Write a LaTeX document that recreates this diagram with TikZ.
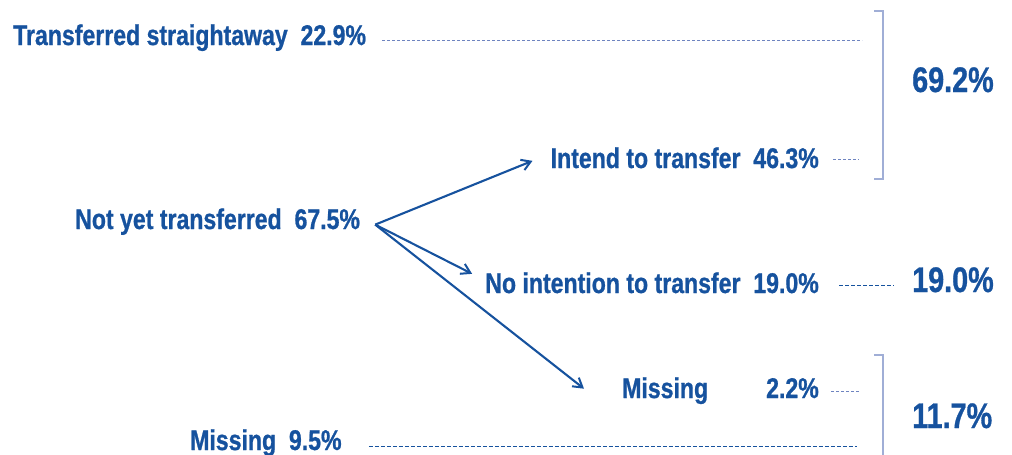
\documentclass[tikz,border=0pt]{standalone}
\usepackage{fontspec}
\setmainfont{Liberation Sans}[FakeStretch=0.81, BoldFeatures={FakeBold=0.8}]
\usetikzlibrary{arrows.meta,positioning}
\definecolor{navy}{RGB}{22,82,158}
\definecolor{rulecol}{RGB}{160,174,214}
\definecolor{leadcol}{RGB}{110,132,192}

\begin{document}
\begin{tikzpicture}[x=1pt, y=-1pt,
  lbl/.style={inner sep=0pt, text=navy, font=\fontsize{28.5}{30}\selectfont\bfseries},
  tot/.style={inner sep=0pt, text=navy, font=\fontsize{35.5}{38}\selectfont\bfseries, anchor=base west},
  flow/.style={-{Straight Barb[length=9pt,width=11pt,line width=2pt]}, line width=2.1pt, navy},
  leader/.style={leadcol, line width=1.2pt, dash pattern=on 3pt off 2pt},
  darklead/.style={navy, line width=1.3pt, dash pattern=on 4pt off 2pt},
  brace/.style={rulecol, line width=1.3pt}
]
\useasboundingbox (0,0) rectangle (1012,455);

% left column
\node[lbl, anchor=base west] at (13,45)  (trans)  {Transferred straightaway\ \ 22.9\%};
\node[lbl, anchor=base west] at (75,229) (notyet) {Not yet transferred\ \ 67.5\%};
\node[lbl, anchor=base west] at (190,450) (missall) {Missing\ \ 9.5\%};

% second level
\node[lbl, anchor=base east] at (819,168) (intend) {Intend to transfer\ \ 46.3\%};
\node[lbl, anchor=base east] at (819,293) (noint)  {No intention to transfer\ \ 19.0\%};
\node[lbl, anchor=base west] at (622,398) (miss)   {Missing};
\node[lbl, anchor=base east] at (819,398) (missval) {2.2\%};

% totals, cut at the right edge
\begin{scope}
\clip (0,0) rectangle (995,455);
\node[tot] at (912,92)  (tot1) {69.2\%};
\node[tot] at (912,292) (tot2) {19.0\%};
\node[tot] at (912,428) (tot3) {11.7\%};
\end{scope}

% arrows out of the fork
\coordinate (fork) at ([xshift=15pt,yshift=-3pt]notyet.east);
\draw[flow] (fork) -- ([xshift=-18pt,yshift=-3pt]intend.west);
\draw[flow] (fork) -- ([xshift=-13pt,yshift=9pt]noint.west);
\draw[flow] (fork) -- ([xshift=-38pt,yshift=2pt]miss.west);

% leader lines
\draw[leader]   ([xshift=16pt,yshift=-3pt]trans.east) -- ++(480,0);
\draw[leader]   ([xshift=14pt,yshift=-2pt]intend.east) -- ++(26,0);
\draw[darklead] ([xshift=20pt,yshift=-3pt]noint.east) -- ++(55,0);
\draw[leader]   ([xshift=12pt,yshift=-3pt]missval.east) -- ++(28,0);
\draw[darklead] ([xshift=27pt,yshift=-4pt]missall.east) -- ++(488,0);

% brackets
\draw[brace] (874,11) -| (883,179) -- (874,179);
\draw[brace] (874,355) -| (883,455);
\end{tikzpicture}
\end{document}
